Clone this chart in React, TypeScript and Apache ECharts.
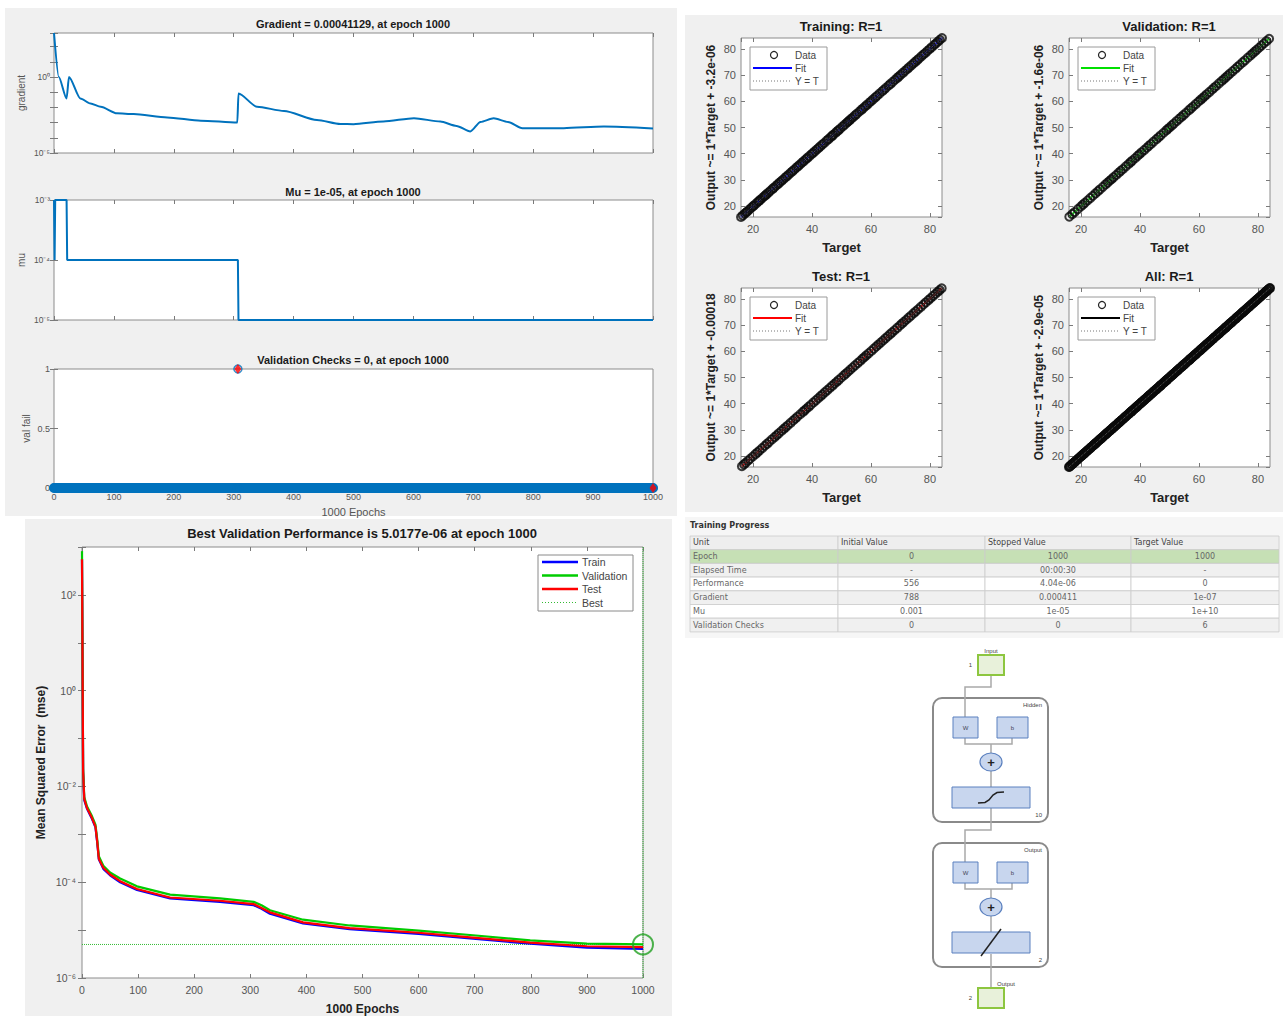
import React, { useEffect, useRef } from 'react';
import * as echarts from 'echarts';

const FONT = '"Liberation Sans", Arial, Helvetica, sans-serif';
const TFONT = '"DejaVu Sans", Verdana, sans-serif';
const W = 1283;
const H = 1016;

// ---------------- Training state: gradient ----------------
const gradEpochs = [0, 8, 21, 25, 44, 61, 78, 105, 133, 189, 245, 306, 308, 339, 384, 439, 478, 500, 550, 601, 645, 672, 695, 712, 734, 758, 782, 851, 918, 1000];
const gradValues = [788, 1.0, 0.039, 1.0, 0.039, 0.018, 0.011, 0.0041, 0.0037, 0.0022, 0.00135, 0.001, 0.083, 0.011, 0.0058, 0.0015, 0.00082, 0.00079, 0.0012, 0.00195, 0.00117, 0.0006, 0.00026, 0.0011, 0.00195, 0.0011, 0.00043, 0.00043, 0.00055, 0.00041129];
const gradYMin = 1e-5;
const gradYMax = 788;

// ---------------- Training state: mu ----------------
const muEpochs = [0, 1, 2, 21, 22, 307, 308, 1000];
const muValues = [1e-3, 1e-4, 1e-3, 1e-3, 1e-4, 1e-4, 1e-5, 1e-5];
const muYMin = 1e-5;
const muYMax = 1e-3;

// ---------------- Training state: validation checks ----------------
const valFailEpochs = [0, 306, 307, 308, 1000];
const valFailValues = [0, 0, 1, 0, 0];
const valFailMarkEpochs = [307, 1000];
const valFailMarkValues = [1, 0];

// ---------------- Performance ----------------
const perfEpochs = [0, 2, 4, 9, 17, 24, 27, 30, 38, 50, 68, 98, 157, 246, 306, 320, 335, 394, 477, 600, 697, 799, 900, 1000];
const perfTrain = [556, 0.02, 0.0052, 0.0034, 0.0022, 0.0014, 0.0007, 0.0003, 0.00019, 0.00014, 0.0001, 6.9e-5, 4.6e-5, 3.9e-5, 3.3e-5, 2.8e-5, 2.2e-5, 1.38e-5, 1.05e-5, 8.3e-6, 6.6e-6, 5.2e-6, 4.3e-6, 4.04e-6];
const perfVal = [820, 0.024, 0.006, 0.0038, 0.0025, 0.0016, 0.0008, 0.00035, 0.00022, 0.00016, 0.00012, 8.2e-5, 5.5e-5, 4.6e-5, 3.9e-5, 3.3e-5, 2.6e-5, 1.65e-5, 1.25e-5, 9.8e-6, 7.8e-6, 6.1e-6, 5.2e-6, 5.0177e-6];
const perfTest = [556, 0.021, 0.0055, 0.0035, 0.0023, 0.00145, 0.00072, 0.00031, 0.0002, 0.000145, 0.000105, 7.2e-5, 4.8e-5, 4.1e-5, 3.5e-5, 2.9e-5, 2.35e-5, 1.45e-5, 1.1e-5, 8.8e-6, 7.0e-6, 5.5e-6, 4.6e-6, 4.4e-6];
const bestEpoch = 1000;
const bestPerf = 5.0177e-6;
const perfYMin = 1e-6;
const perfYMax = 1e3;
const perfLegend = ['Train', 'Validation', 'Test', 'Best'];

// ---------------- Regression ----------------
const trainTargets = [15.9, 16.5, 17.2, 17.7, 18.1, 18.8, 19.4, 20.0, 20.3, 21.1, 21.7, 22.1, 22.5, 23.2, 23.8, 24.2, 24.6, 25.3, 25.9, 26.6, 27.1, 27.8, 28.4, 29.0, 29.6, 30.2, 30.9, 31.5, 32.1, 32.8, 33.4, 34.0, 34.7, 35.3, 35.9, 36.6, 37.2, 37.9, 38.4, 39.1, 39.8, 40.3, 40.9, 41.6, 42.2, 42.8, 43.5, 44.1, 45.0, 45.6, 46.3, 46.8, 47.2, 47.9, 48.5, 49.0, 49.6, 50.4, 51.1, 51.8, 52.2, 52.7, 53.3, 53.9, 54.6, 55.2, 56.0, 56.7, 57.3, 58.0, 58.6, 59.4, 60.0, 60.7, 61.5, 62.1, 62.9, 63.8, 64.4, 65.1, 66.0, 66.6, 67.4, 68.2, 68.9, 69.5, 70.1, 70.8, 71.6, 72.3, 72.9, 73.7, 74.4, 75.0, 75.7, 76.3, 77.1, 77.8, 78.4, 79.2, 79.9, 80.6, 81.5, 82.0, 82.7, 83.4, 84.1];
const valTargets = [16.0, 17.0, 17.8, 18.9, 19.9, 20.6, 21.3, 22.2, 23.1, 24.0, 24.9, 25.7, 26.4, 27.4, 28.3, 29.0, 29.7, 30.3, 31.0, 31.9, 32.8, 33.5, 34.2, 35.2, 36.1, 36.8, 37.4, 38.3, 39.2, 39.8, 40.5, 41.4, 42.3, 43.0, 43.7, 44.6, 45.6, 46.3, 47.0, 48.0, 48.9, 49.5, 50.1, 50.8, 51.5, 52.4, 53.3, 54.0, 54.7, 55.6, 56.6, 57.3, 58.0, 58.9, 59.8, 60.5, 61.2, 61.9, 62.6, 63.5, 64.4, 65.1, 65.8, 66.8, 67.7, 68.4, 69.1, 69.8, 70.5, 71.4, 72.3, 73.1, 73.9, 74.8, 75.6, 76.6, 77.5, 78.2, 78.9, 79.6, 80.4, 81.2, 82.0, 82.9, 83.8];
const testTargets = [16.2, 16.9, 17.5, 18.3, 19.0, 19.9, 20.8, 21.5, 22.2, 23.1, 24.0, 24.7, 25.5, 26.4, 27.3, 28.0, 28.7, 29.6, 30.4, 31.1, 31.8, 32.7, 33.6, 34.3, 35.0, 36.0, 36.9, 37.5, 38.1, 38.8, 39.6, 40.5, 41.3, 42.1, 42.9, 43.6, 44.4, 45.2, 46.0, 46.8, 47.6, 48.3, 49.0, 49.9, 50.8, 51.5, 52.2, 53.0, 53.8, 54.6, 55.5, 56.3, 57.1, 57.7, 58.4, 59.2, 60.1, 61.0, 61.8, 62.5, 63.3, 64.1, 64.9, 65.7, 66.5, 67.2, 68.0, 68.9, 69.8, 70.5, 71.2, 72.0, 72.8, 73.6, 74.5, 75.2, 76.0, 76.9, 77.8, 78.6, 79.5, 80.2, 81.0, 81.8, 82.6, 83.3, 84.0];
const regTitles = ['Training: R=1', 'Validation: R=1', 'Test: R=1', 'All: R=1'];
const regYLabels = ['Output ~= 1*Target + -3.2e-06', 'Output ~= 1*Target + -1.6e-06', 'Output ~= 1*Target + -0.00018', 'Output ~= 1*Target + -2.9e-05'];
const regFitColors = ['#0000ff', '#00e000', '#ff0000', '#000000'];
const regLegend = ['Data', 'Fit', 'Y = T'];

// ---------------- Training progress table ----------------
const tableHeaders = ['Unit', 'Initial Value', 'Stopped Value', 'Target Value'];
const tableUnits = ['Epoch', 'Elapsed Time', 'Performance', 'Gradient', 'Mu', 'Validation Checks'];
const tableInitial = ['0', '-', '556', '788', '0.001', '0'];
const tableStopped = ['1000', '00:00:30', '4.04e-06', '0.000411', '1e-05', '0'];
const tableTarget = ['1000', '-', '0', '1e-07', '1e+10', '6'];

// ---------------- Network diagram labels ----------------
const netInputSize = '1';
const netHiddenSize = '10';
const netOutputSize = '2';

const SUP: Record<string, string> = { '-': '⁻', '0': '⁰', '1': '¹', '2': '²', '3': '³', '4': '⁴', '5': '⁵', '6': '⁶', '7': '⁷', '8': '⁸', '9': '⁹' };
const pow10Label = (shown: number[]) => (v: number) => {
  const l = Math.log10(v);
  const r = Math.round(l);
  if (Math.abs(l - r) > 1e-6 || !shown.includes(r)) return '';
  return '10' + String(r).split('').map((c) => SUP[c]).join('');
};
const plainNum = (v: number) => String(Math.round(v * 1000) / 1000);

const AXC = '#7a7a7a';
const LBL = '#555555';

function buildOption() {
  const grids = [
    { left: 54, top: 33, width: 599, height: 120 },
    { left: 54, top: 200, width: 599, height: 120 },
    { left: 54, top: 369, width: 599, height: 119 },
    { left: 82, top: 547, width: 561, height: 434 },
    { left: 741, top: 38, width: 201, height: 179 },
    { left: 1069, top: 38, width: 201, height: 179 },
    { left: 741, top: 288, width: 201, height: 179 },
    { left: 1069, top: 288, width: 201, height: 179 },
  ].map((g) => ({ ...g, show: true, backgroundColor: '#ffffff', borderColor: '#8c8c8c', borderWidth: 1, containLabel: false }));

  const xAxes: any[] = [];
  const yAxes: any[] = [];
  const tick = { show: true, inside: true, length: 4, lineStyle: { color: AXC, width: 1 } };
  const baseAx = (b: any) => ({ axisLine: { show: false }, splitLine: { show: false }, axisTick: tick, ...b });
  const addX = (gi: number, b: any, main: any) => {
    xAxes.push({ gridIndex: gi, position: 'bottom', ...baseAx(b), ...main });
    xAxes.push({ gridIndex: gi, position: 'top', ...baseAx(b), axisLabel: { show: false } });
    return xAxes.length - 2;
  };
  const addY = (gi: number, b: any, main: any) => {
    yAxes.push({ gridIndex: gi, position: 'left', ...baseAx(b), ...main });
    yAxes.push({ gridIndex: gi, position: 'right', ...baseAx(b), axisLabel: { show: false } });
    return yAxes.length - 2;
  };
  const lbl = (size: number, extra: any = {}) => ({ show: true, fontSize: size, color: LBL, fontFamily: FONT, formatter: plainNum, ...extra });
  const epochAx = { type: 'value', min: 0, max: 1000, interval: 100 };

  // gradient
  const gX = addX(0, epochAx, { axisLabel: { show: false } });
  const gY = addY(0, { type: 'log', logBase: 10, min: gradYMin, max: gradYMax }, {
    axisLabel: lbl(8.5, { formatter: pow10Label([0, -5]), margin: 4 }),
    name: 'gradient', nameLocation: 'middle', nameRotate: 90, nameGap: 28,
    nameTextStyle: { fontSize: 10, color: LBL, fontFamily: FONT },
  });
  // mu
  const mX = addX(1, epochAx, { axisLabel: { show: false } });
  const mY = addY(1, { type: 'log', logBase: 10, min: muYMin, max: muYMax }, {
    axisLabel: lbl(8.5, { formatter: pow10Label([-3, -4, -5]), margin: 4 }),
    name: 'mu', nameLocation: 'middle', nameRotate: 90, nameGap: 28,
    nameTextStyle: { fontSize: 10, color: LBL, fontFamily: FONT },
  });
  // val fail
  const vX = addX(2, epochAx, {
    axisLabel: lbl(9, { margin: 4 }),
    name: '1000 Epochs', nameLocation: 'middle', nameGap: 18,
    nameTextStyle: { fontSize: 11, color: LBL, fontFamily: FONT },
  });
  const vY = addY(2, { type: 'value', min: 0, max: 1, interval: 0.5 }, {
    axisLabel: lbl(9, { margin: 4 }),
    name: 'val fail', nameLocation: 'middle', nameRotate: 90, nameGap: 23,
    nameTextStyle: { fontSize: 10, color: LBL, fontFamily: FONT },
  });
  // perf
  const pX = addX(3, epochAx, {
    axisLabel: lbl(10.5, { margin: 6 }),
    name: '1000 Epochs', nameLocation: 'middle', nameGap: 25,
    nameTextStyle: { fontSize: 12, fontWeight: 'bold', color: '#222', fontFamily: FONT },
  });
  const pY = addY(3, { type: 'log', logBase: 10, min: perfYMin, max: perfYMax }, {
    axisLabel: lbl(10.5, { formatter: pow10Label([2, 0, -2, -4, -6]), margin: 6 }),
    name: 'Mean Squared Error  (mse)', nameLocation: 'middle', nameRotate: 90, nameGap: 35,
    nameTextStyle: { fontSize: 12, fontWeight: 'bold', color: '#222', fontFamily: FONT },
  });

  // regression
  const allTargets = [...trainTargets, ...valTargets, ...testTargets];
  const regMin = Math.min(...allTargets);
  const regMax = Math.max(...allTargets);
  const regSets = [trainTargets, valTargets, testTargets, allTargets];
  const regAx: { x: number; y: number }[] = [];
  for (let k = 0; k < 4; k++) {
    const x = addX(4 + k, { type: 'value', min: regMin, max: regMax, splitNumber: 3 }, {
      axisLabel: lbl(11, { margin: 6, showMinLabel: false, showMaxLabel: false }),
      name: 'Target', nameLocation: 'middle', nameGap: 24,
      nameTextStyle: { fontSize: 13, fontWeight: 'bold', color: '#222', fontFamily: FONT },
    });
    const y = addY(4 + k, { type: 'value', min: regMin, max: regMax, splitNumber: 5 }, {
      axisLabel: lbl(11, { margin: 5, showMinLabel: false, showMaxLabel: false }),
      name: regYLabels[k], nameLocation: 'middle', nameRotate: 90, nameGap: 24,
      nameTextStyle: { fontSize: 12, fontWeight: 'bold', color: '#222', fontFamily: FONT },
    });
    regAx.push({ x, y });
  }

  const series: any[] = [];
  const BLUE = '#0072bd';
  series.push({
    type: 'line', xAxisIndex: gX, yAxisIndex: gY, symbol: 'none', smooth: 0.25, smoothMonotone: 'x',
    data: gradEpochs.map((e, i) => [e, gradValues[i]]), lineStyle: { color: BLUE, width: 2 },
  });
  series.push({
    type: 'line', xAxisIndex: mX, yAxisIndex: mY, symbol: 'none',
    data: muEpochs.map((e, i) => [e, muValues[i]]), lineStyle: { color: BLUE, width: 2 },
  });
  series.push({
    type: 'line', xAxisIndex: vX, yAxisIndex: vY, symbol: 'none', connectNulls: false,
    data: valFailEpochs.map((e, i) => [e, valFailValues[i] === 0 ? 0 : '-']),
    lineStyle: { color: BLUE, width: 10, cap: 'round' },
  });
  series.push({
    type: 'scatter', xAxisIndex: vX, yAxisIndex: vY, symbol: 'circle', symbolSize: 8,
    data: valFailEpochs.map((e, i) => [e, valFailValues[i]]),
    itemStyle: { color: 'rgba(0,0,0,0)', borderColor: BLUE, borderWidth: 1.5 }, z: 3,
  });
  series.push({
    type: 'scatter', xAxisIndex: vX, yAxisIndex: vY, symbol: 'diamond', symbolSize: [7, 10],
    data: valFailMarkEpochs.map((e, i) => [e, valFailMarkValues[i]]),
    itemStyle: { color: '#ff0000' }, z: 4,
  });

  const perfCols = ['#0000ff', '#00cc00', '#ff0000'];
  [perfTrain, perfVal, perfTest].forEach((arr, i) => {
    series.push({
      type: 'line', name: perfLegend[i], xAxisIndex: pX, yAxisIndex: pY, symbol: 'none',
      data: perfEpochs.map((e, j) => [e, arr[j]]), lineStyle: { color: perfCols[i], width: 2.2 }, z: 3 + i,
    });
  });
  const GREEN_D = '#22a022';
  series.push({
    type: 'line', name: 'Best', xAxisIndex: pX, yAxisIndex: pY, symbol: 'none',
    data: [[0, bestPerf], [bestEpoch, bestPerf]], lineStyle: { color: '#33bb33', width: 1, type: 'dotted' }, z: 2,
  });
  series.push({
    type: 'line', xAxisIndex: pX, yAxisIndex: pY, symbol: 'none',
    data: [[bestEpoch, perfYMin], [bestEpoch, perfYMax]], lineStyle: { color: '#33bb33', width: 1, type: 'dotted' }, z: 2,
  });
  series.push({
    type: 'scatter', xAxisIndex: pX, yAxisIndex: pY, symbol: 'circle', symbolSize: 20, clip: false,
    data: [[bestEpoch, bestPerf]], itemStyle: { color: 'rgba(0,0,0,0)', borderColor: GREEN_D, borderWidth: 2 }, z: 7,
  });

  regSets.forEach((ts, k) => {
    const mn = Math.min(...ts);
    const mx = Math.max(...ts);
    series.push({
      type: 'line', xAxisIndex: regAx[k].x, yAxisIndex: regAx[k].y, symbol: 'none',
      data: [[mn, mn], [mx, mx]], lineStyle: { color: regFitColors[k], width: 2 }, z: 2,
    });
    series.push({
      type: 'scatter', xAxisIndex: regAx[k].x, yAxisIndex: regAx[k].y, symbol: 'circle', symbolSize: 8, clip: false,
      data: ts.map((t) => [t, t]),
      itemStyle: { color: 'rgba(0,0,0,0)', borderColor: '#0a0a0a', borderWidth: 2 }, z: 3,
    });
    series.push({
      type: 'line', xAxisIndex: regAx[k].x, yAxisIndex: regAx[k].y, symbol: 'none',
      data: [[regMin, regMin], [regMax, regMax]], lineStyle: { color: '#666', width: 1, type: 'dotted' }, z: 4,
    });
  });

  // ---------------- titles ----------------
  const tstyle = (size: number) => ({ fontSize: size, fontWeight: 'bold', color: '#1a1a1a', fontFamily: FONT });
  const titles = [
    { text: 'Gradient = 0.00041129, at epoch 1000', left: 353, top: 18, textAlign: 'center', textStyle: tstyle(11) },
    { text: 'Mu = 1e-05, at epoch 1000', left: 353, top: 186, textAlign: 'center', textStyle: tstyle(11) },
    { text: 'Validation Checks = 0, at epoch 1000', left: 353, top: 354, textAlign: 'center', textStyle: tstyle(11) },
    { text: 'Best Validation Performance is 5.0177e-06 at epoch 1000', left: 362, top: 527, textAlign: 'center', textStyle: tstyle(13) },
    { text: regTitles[0], left: 841, top: 20, textAlign: 'center', textStyle: tstyle(13) },
    { text: regTitles[1], left: 1169, top: 20, textAlign: 'center', textStyle: tstyle(13) },
    { text: regTitles[2], left: 841, top: 270, textAlign: 'center', textStyle: tstyle(13) },
    { text: regTitles[3], left: 1169, top: 270, textAlign: 'center', textStyle: tstyle(13) },
  ].map((t) => ({ ...t, padding: 0 }));

  // ---------------- graphics ----------------
  const gr: any[] = [];
  const rect = (x: number, y: number, w: number, h: number, fill: string, stroke: string | null, lw = 1, r = 0, z = 10) =>
    gr.push({ type: 'rect', z, shape: { x, y, width: w, height: h, r }, style: { fill, stroke: stroke || undefined, lineWidth: stroke ? lw : 0 } });
  const txt = (x: number, y: number, s: string, font: string, fill = '#333', align = 'left', z = 12) =>
    gr.push({ type: 'text', z, x, y, style: { text: s, font, fill, textAlign: align, textVerticalAlign: 'middle' } });
  const poly = (pts: number[][], stroke: string, lw = 1, z = 11, dash: any = null) =>
    gr.push({ type: 'polyline', z, shape: { points: pts }, style: { stroke, lineWidth: lw, fill: 'none', lineDash: dash || undefined } });

  // panels
  rect(5, 8, 672, 508, '#f0f0f0', null, 0, 0, -10);
  rect(25, 519, 647, 497, '#f0f0f0', null, 0, 0, -10);
  rect(685, 15, 598, 497, '#f0f0f0', null, 0, 0, -10);
  rect(685, 517, 598, 121, '#f6f6f6', null, 0, 0, -10);

  // regression legends
  const regGrid = [[741, 38], [1069, 38], [741, 288], [1069, 288]];
  regGrid.forEach(([gx, gy], k) => {
    const lx = gx + 9, ly = gy + 9;
    rect(lx, ly, 77, 43, '#ffffff', '#9a9a9a', 1, 0, 20);
    gr.push({ type: 'circle', z: 21, shape: { cx: lx + 24, cy: ly + 8, r: 3.5 }, style: { fill: 'none', stroke: '#222', lineWidth: 1.2 } });
    poly([[lx + 3, ly + 21], [lx + 42, ly + 21]], regFitColors[k], 2, 21);
    poly([[lx + 3, ly + 34], [lx + 42, ly + 34]], '#777', 1, 21, [1, 2]);
    regLegend.forEach((s, i) => txt(lx + 45, ly + 8 + i * 13, s, `10px ${FONT}`, '#444', 'left', 22));
  });

  // perf legend
  rect(538, 555, 95, 56, '#ffffff', '#8a8a8a', 1, 0, 20);
  const pLegCols = ['#0000ff', '#00cc00', '#ff0000', '#33bb33'];
  perfLegend.forEach((s, i) => {
    const yy = 562 + i * 13.5;
    poly([[542, yy], [578, yy]], pLegCols[i], i === 3 ? 1 : 2.5, 21, i === 3 ? [1, 2] : null);
    txt(582, yy, s, `10.5px ${FONT}`, '#444', 'left', 22);
  });

  // training progress table
  txt(690, 525, 'Training Progress', `bold 8px ${TFONT}`, '#333');
  const colX = [690, 838, 985, 1131, 1279];
  const rowH = 13.7;
  const top0 = 536;
  const rowFills = ['#eeeeee', '#c6e0b5', '#f0f0f0', '#ffffff', '#f0f0f0', '#ffffff', '#f0f0f0'];
  const rows = [tableHeaders, ...tableUnits.map((u, i) => [u, tableInitial[i], tableStopped[i], tableTarget[i]])];
  rows.forEach((row, r) => {
    const y = top0 + r * rowH;
    row.forEach((cell, c) => {
      rect(colX[c], y, colX[c + 1] - colX[c], rowH, rowFills[r], '#cccccc', 0.8, 0, 10);
      const left = r === 0 || c === 0;
      txt(left ? colX[c] + 3 : (colX[c] + colX[c + 1]) / 2, y + rowH / 2, cell, `8px ${TFONT}`, r === 0 ? '#444' : '#666', left ? 'left' : 'center');
    });
  });

  // network diagram
  const cx = 991;
  const LINE = '#a9a9a9';
  const BFILL = '#c8d6ee', BSTROKE = '#5b80bf';
  const GFILL = '#e8f1da', GSTROKE = '#8dc63f';
  txt(cx, 651, 'Input', `6px ${FONT}`, '#444', 'center');
  rect(978, 655, 26, 20, GFILL, GSTROKE, 2, 0, 12);
  txt(972, 665, netInputSize, `6px ${FONT}`, '#444', 'right');
  poly([[cx, 675], [cx, 687], [965, 687], [965, 717]], LINE, 1.5);
  const layer = (top: number, label: string, size: string, linear: boolean) => {
    rect(933, top, 115, 124, '#ffffff', '#8a8a8a', 2, 9, 10);
    txt(1042, top + 7, label, `6px ${FONT}`, '#444', 'right');
    txt(1042, top + 117, size, `6px ${FONT}`, '#444', 'right');
    rect(953, top + 19, 25, 21, BFILL, BSTROKE, 1, 0, 12);
    txt(965.5, top + 29.5, 'W', `6px ${FONT}`, '#445', 'center', 13);
    rect(997, top + 19, 31, 21, BFILL, BSTROKE, 1, 0, 12);
    txt(1012.5, top + 29.5, 'b', `6px ${FONT}`, '#445', 'center', 13);
    poly([[965, top + 40], [965, top + 46], [1012, top + 46], [1012, top + 40]], LINE, 1.5);
    poly([[cx, top + 46], [cx, top + 55]], LINE, 1.5);
    gr.push({ type: 'ellipse', z: 12, shape: { cx, cy: top + 64, rx: 11, ry: 9 }, style: { fill: BFILL, stroke: BSTROKE, lineWidth: 1.2 } });
    txt(cx, top + 64, '+', `bold 13px ${FONT}`, '#222', 'center', 13);
    poly([[cx, top + 73], [cx, top + 89]], LINE, 1.5);
    rect(952, top + 89, 78, 21, BFILL, BSTROKE, 1, 0, 12);
    if (linear) {
      poly([[981, top + 113], [1001, top + 86]], '#222', 1.5, 13);
    } else {
      poly([[978, top + 105], [985, top + 104.5], [989, top + 102], [993, top + 97], [997, top + 94.5], [1004, top + 94]], '#222', 1.5, 13);
    }
  };
  layer(698, 'Hidden', netHiddenSize, false);
  poly([[cx, 808], [cx, 830], [965, 830], [965, 862]], LINE, 1.5);
  layer(843, 'Output', netOutputSize, true);
  poly([[cx, 954], [cx, 988]], LINE, 1.5);
  rect(978, 988, 26, 20, GFILL, GSTROKE, 2, 0, 12);
  txt(997, 984, 'Output', `6px ${FONT}`, '#444', 'left');
  txt(972, 998, netOutputSize, `6px ${FONT}`, '#444', 'right');

  return {
    animation: false,
    backgroundColor: '#ffffff',
    textStyle: { fontFamily: FONT },
    title: titles,
    grid: grids,
    xAxis: xAxes,
    yAxis: yAxes,
    series,
    graphic: { elements: gr },
  };
}

export default function App() {
  const ref = useRef<HTMLDivElement>(null);
  useEffect(() => {
    if (!ref.current) return;
    const chart = echarts.init(ref.current, null, { renderer: 'svg', width: W, height: H });
    chart.setOption(buildOption() as any);
    return () => chart.dispose();
  }, []);
  return <div ref={ref} style={{ position: 'absolute', left: 0, top: 0, width: W, height: H }} />;
}
